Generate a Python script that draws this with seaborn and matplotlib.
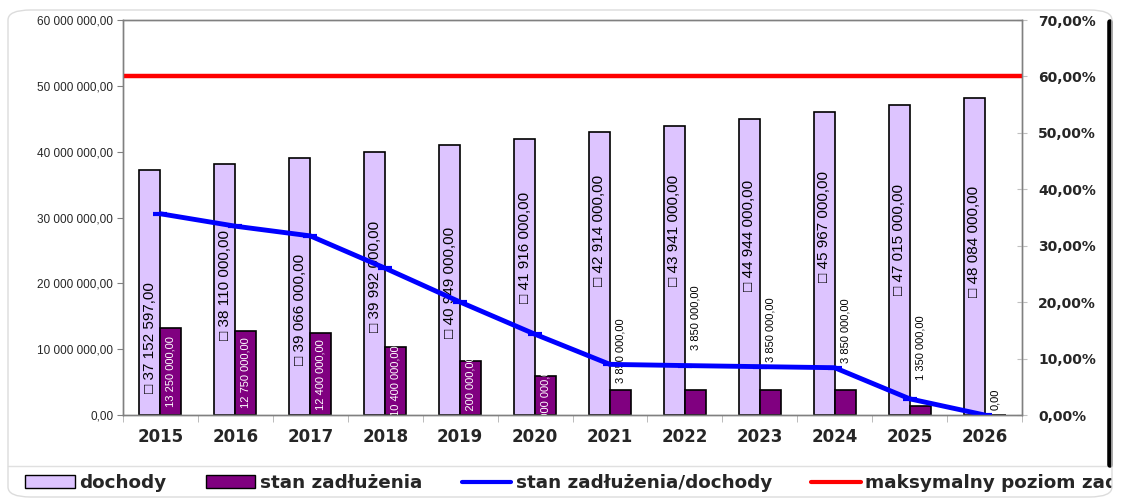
# wykres: dochody, stan zadłużenia i wskaźnik zadłużenia 2015-2026
import numpy as np
import pandas as pd
import matplotlib
matplotlib.use('Agg')
import matplotlib.pyplot as plt
import seaborn as sns
from matplotlib.patches import Patch, FancyBboxPatch, Rectangle
from matplotlib.lines import Line2D
from matplotlib.ticker import FuncFormatter, FixedLocator, MultipleLocator

# dane
years = ['2015', '2016', '2017', '2018', '2019', '2020',
         '2021', '2022', '2023', '2024', '2025', '2026']
dochody = [37152597, 38110000, 39066000, 39992000, 40949000, 41916000,
           42914000, 43941000, 44944000, 45967000, 47015000, 48084000]
zadluzenie = [13250000, 12750000, 12400000, 10400000, 8200000, 6000000,
              3850000, 3850000, 3850000, 3850000, 1350000, 0]
wskaznik = [0.3566, 0.3346, 0.3174, 0.2601, 0.2002, 0.1431,
            0.0897, 0.0876, 0.0857, 0.0838, 0.0287, 0.0]
limit = 0.60

# położenie etykiet (w mln, tylko układ)
doch_label_mid = [11.7, 19.7, 16.0, 21.0, 20.1, 25.5, 28.0, 28.1, 27.3, 28.7, 26.6, 26.3]
zad_label_base = [None, None, None, None, None, None, 4.9, 9.9, 8.0, 7.9, 5.3, 0.8]

lav = '#DDC4FF'
purple = '#800080'
W, H = 1135, 499
bold_font = ['DejaVu Sans']

sns.set_style('white')
plt.rcParams['font.family'] = ['Liberation Sans', 'DejaVu Sans']


def pln(v):
    return f"{v:,.2f}".replace(',', ' ').replace('.', ',')


df = pd.DataFrame({'rok': years * 2,
                   'kwota': dochody + zadluzenie,
                   'seria': ['dochody'] * 12 + ['stan zadłużenia'] * 12})

fig = plt.figure(figsize=(W / 100, H / 100), dpi=100)
ax = fig.add_axes([123 / W, 1 - 415 / H, (1022 - 123) / W, (415 - 20) / H])

sns.barplot(data=df, x='rok', y='kwota', hue='seria', palette=[lav, purple],
            width=0.56, gap=0, saturation=1, edgecolor='black', linewidth=1.2,
            legend=False, ax=ax)

ax.set_ylim(0, 60e6)
ax.yaxis.set_major_locator(MultipleLocator(10e6))
ax.yaxis.set_major_formatter(FuncFormatter(lambda v, p: pln(v)))
ax.set_xlabel('')
ax.set_ylabel('')
ax.tick_params(axis='y', left=True, length=4, color='#808080', labelsize=8.5, pad=3)
ax.tick_params(axis='x', which='major', bottom=True, length=0, labelsize=12, pad=9)
ax.xaxis.set_minor_locator(FixedLocator(np.arange(-0.5, 12, 1)))
ax.tick_params(axis='x', which='minor', bottom=True, length=5, color='#b0b0b0')
for lbl in ax.get_xticklabels():
    lbl.set_fontweight('bold')
    lbl.set_family(bold_font)

# etykiety dochodów
for bar, v, mid in zip(ax.containers[0], dochody, doch_label_mid):
    ax.text(bar.get_x() + bar.get_width() / 2, mid * 1e6, '\u25a1 ' + pln(v),
            rotation=90, rotation_mode='anchor', ha='center', va='center',
            fontsize=11, color='black', zorder=6)

# etykiety zadłużenia
for bar, v, base in zip(ax.containers[1], zadluzenie, zad_label_base):
    xc = bar.get_x() + bar.get_width() / 2
    if base is None:
        ax.text(xc, v / 2, pln(v), rotation=90, rotation_mode='anchor',
                ha='center', va='center', fontsize=8, color='white',
                clip_on=True, zorder=6)
    else:
        ax.text(xc, base * 1e6, pln(v), rotation=90, rotation_mode='anchor',
                ha='left', va='center', fontsize=8, color='black', zorder=6)

# oś prawa: wskaźnik
ax2 = ax.twinx()
sns.pointplot(x=years, y=wskaznik, color='blue', markers='_', markersize=10,
              linewidth=3.5, errorbar=None, mew=3, ax=ax2)
ax2.axhline(limit, color='red', lw=3.2)
ax2.set_ylim(0, 0.7)
ax2.yaxis.set_major_locator(MultipleLocator(0.1))
ax2.yaxis.set_major_formatter(FuncFormatter(lambda v, p: f"{v * 100:.2f}%".replace('.', ',')))
ax2.tick_params(axis='y', right=True, direction='inout', length=7, color='#c0c0c0',
                labelsize=10, pad=8)
for lbl in ax2.get_yticklabels():
    lbl.set_fontweight('bold')
    lbl.set_family(bold_font)
ax2.set_ylabel('')
ax.set_xlim(-0.5, 11.5)

for a in (ax, ax2):
    for s in a.spines.values():
        s.set_color('#808080')
        s.set_linewidth(1)

# ramka wykresu
fig.patches.append(FancyBboxPatch((8 / W, 2 / H), 1104 / W, 487 / H,
                                  boxstyle='round,pad=0,rounding_size=0.02',
                                  transform=fig.transFigure, facecolor='none',
                                  edgecolor='#dcdcdc', lw=1, zorder=11))
fig.lines.append(Line2D([8 / W, 1112 / W], [1 - 466 / H, 1 - 466 / H],
                        transform=fig.transFigure, color='#e0e0e0', lw=1))
fig.lines.append(Line2D([1110 / W, 1110 / W], [1 - 22 / H, 1 - 465 / H],
                        transform=fig.transFigure, color='black', lw=4))

# legenda (ucięta po prawej jak w oryginale)
handles = [Patch(facecolor=lav, edgecolor='black', lw=1),
           Patch(facecolor=purple, edgecolor='black', lw=1),
           Line2D([], [], color='blue', lw=3),
           Line2D([], [], color='red', lw=3)]
labels = ['dochody', 'stan zadłużenia', 'stan zadłużenia/dochody',
          'maksymalny poziom zadłużenia']
fig.legend(handles, labels, loc='center left', bbox_to_anchor=(25 / W, 1 - 483 / H),
           ncol=4, frameon=False,
           prop={'weight': 'bold', 'size': 13.2, 'family': bold_font},
           handlelength=2.7, handleheight=0.7, handletextpad=0.25,
           columnspacing=2.15, borderpad=0, borderaxespad=0)
fig.patches.append(Rectangle((1112 / W, 0), (W - 1112) / W, 1 - 467 / H,
                             transform=fig.transFigure, facecolor='white',
                             edgecolor='none', zorder=10))

fig.savefig('out.png', dpi=100)
